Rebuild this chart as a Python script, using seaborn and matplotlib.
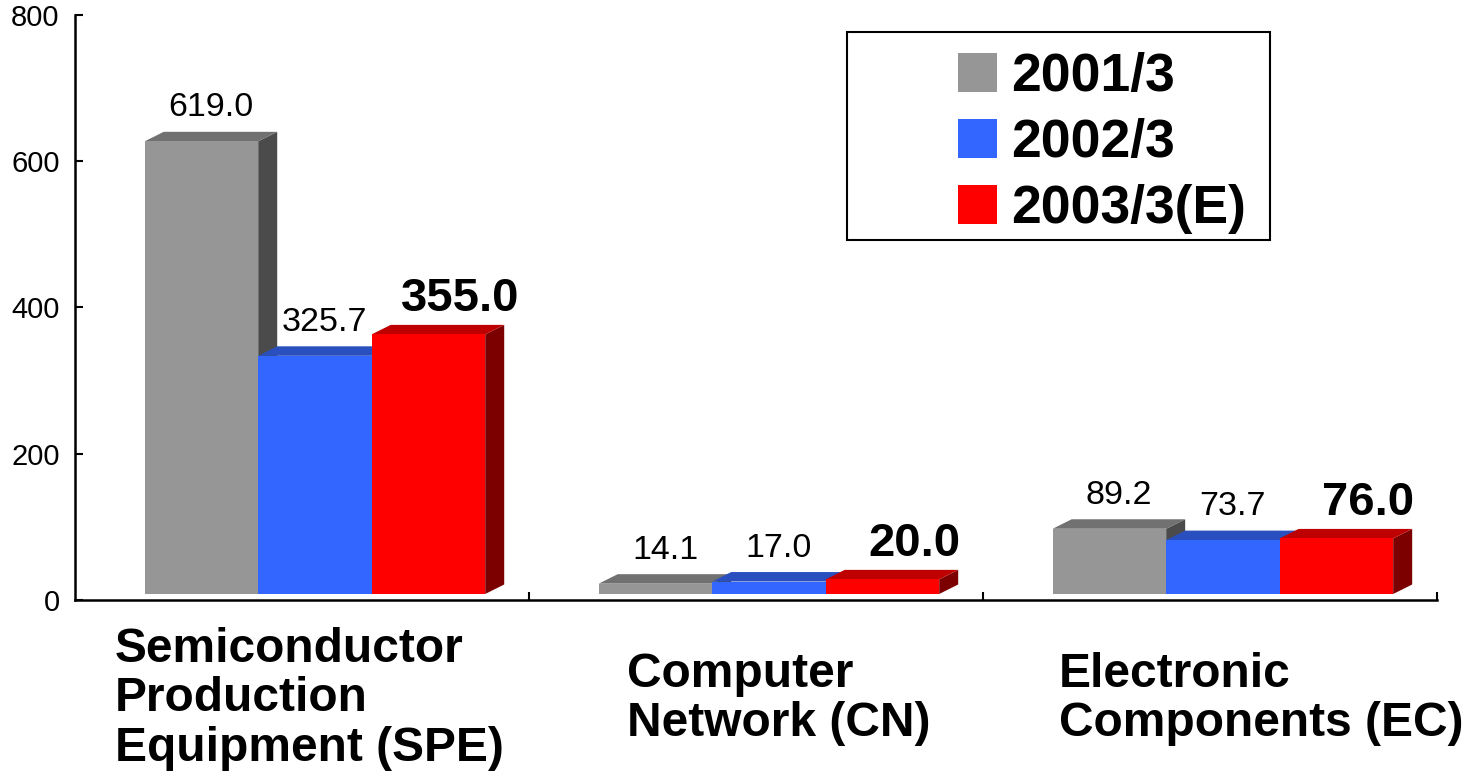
import matplotlib

matplotlib.use("Agg")

import matplotlib.pyplot as plt
import numpy as np
import pandas as pd
import seaborn as sns
from matplotlib.patches import Patch, Polygon, Rectangle
from matplotlib.transforms import blended_transform_factory

segments = ["Semiconductor\nProduction\nEquipment (SPE)", "Computer\nNetwork (CN)", "Electronic\nComponents (EC)"]
years = ["2001/3", "2002/3", "2003/3(E)"]
values_2001 = [619.0, 14.1, 89.2]
values_2002 = [325.7, 17.0, 73.7]
values_2003 = [355.0, 20.0, 76.0]

front_colors = ["#969696", "#3366ff", "#ff0000"]
top_colors = ["#717171", "#2a50c0", "#bf0000"]
side_colors = ["#4b4b4b", "#1c3485", "#7c0000"]

sns.set_style("ticks")
plt.rcParams["font.family"] = ["Liberation Sans", "DejaVu Sans"]
plt.rcParams["text.color"] = "black"
plt.rcParams["xtick.color"] = "black"
plt.rcParams["ytick.color"] = "black"

rows = []
for year, vals in zip(years, [values_2001, values_2002, values_2003]):
    for seg, v in zip(segments, vals):
        rows.append({"segment": seg, "year": year, "value": v})
df = pd.DataFrame(rows)

fig = plt.figure(figsize=(14.67, 7.71), dpi=100)
ax = fig.add_axes([0.0511, 0.2218, 0.9284, 0.7588])

sns.barplot(
    data=df, x="segment", y="value", hue="year", hue_order=years, order=segments,
    palette=front_colors, saturation=1, width=0.75, linewidth=0, ax=ax, legend=False,
)

ax.set_xlim(-0.5, 2.5)
ax.set_ylim(0, 800)

# 3D look: depth offset in pixels, converted to data units
px_x = ax.bbox.width / 3.0
px_y = ax.bbox.height / 800.0
dx = 19 / px_x
dy = 9.5 / px_y
shift = 13 / px_x
lift = 6 / px_y

bars = list(ax.patches)
for i, bar in enumerate(bars):
    series = i // 3
    z = 3 + series * 0.1
    bar.set_x(bar.get_x() + shift)
    bar.set_y(lift)
    x0 = bar.get_x()
    x1 = x0 + bar.get_width()
    y0 = lift
    y1 = lift + bar.get_height()
    side = Polygon([(x1, y0), (x1 + dx, y0 + dy), (x1 + dx, y1 + dy), (x1, y1)],
                   closed=True, facecolor=side_colors[series], edgecolor="none", zorder=z)
    top = Polygon([(x0, y1), (x0 + dx, y1 + dy), (x1 + dx, y1 + dy), (x1, y1)],
                  closed=True, facecolor=top_colors[series], edgecolor="none", zorder=z)
    ax.add_patch(side)
    ax.add_patch(top)
    bar.set_zorder(z + 0.05)

    value = bar.get_height()
    cx = x0 + bar.get_width() / 2
    if series == 2:
        ax.annotate(f"{value:.1f}", (cx + 0.07, y1 + dy), xytext=(0, 3), textcoords="offset points",
                    ha="center", va="bottom", fontsize=34, fontweight="bold", zorder=6)
    else:
        ax.annotate(f"{value:.1f}", (cx + dx / 2, y1 + dy), xytext=(0, 6), textcoords="offset points",
                    ha="center", va="bottom", fontsize=24.5, zorder=6)

ax.set_yticks(np.arange(0, 801, 200))
ax.set_xticks([0.5, 1.5, 2.5])
ax.set_xticklabels([])
ax.set_xlabel("")
ax.set_ylabel("")
ax.tick_params(axis="y", direction="in", length=6, width=1.5, labelsize=21, pad=11, colors="black")
ax.tick_params(axis="x", direction="in", length=6, width=1.5)
for side_name in ["top", "right"]:
    ax.spines[side_name].set_visible(False)
for side_name in ["left", "bottom"]:
    ax.spines[side_name].set_linewidth(1.8)
    ax.spines[side_name].set_color("black")

# category labels, left aligned under each group
label_x = [-0.412, 0.716, 1.667]
trans = blended_transform_factory(ax.transData, ax.transAxes)
for lx, seg in zip(label_x, segments):
    ax.text(lx, -0.169, seg, transform=trans, ha="left", va="center", fontsize=34.5,
            fontweight="bold", linespacing=1.13)

# legend with separate frame
handles = [Patch(facecolor=c, edgecolor="none") for c in front_colors]
fig.legend(handles, years, loc="upper left", bbox_to_anchor=(958 / 1467, 1 - 52 / 771),
           frameon=False, borderpad=0, borderaxespad=0, handlelength=0.73, handleheight=0.73,
           handletextpad=0.26, labelspacing=0.3, prop={"size": 38.5, "weight": "bold"})
fig.patches.append(Rectangle((847 / 1467, 1 - 240 / 771), 423 / 1467, 208 / 771,
                             transform=fig.transFigure, facecolor="none", edgecolor="black",
                             linewidth=1.5))

fig.savefig("out.png", dpi=100)
